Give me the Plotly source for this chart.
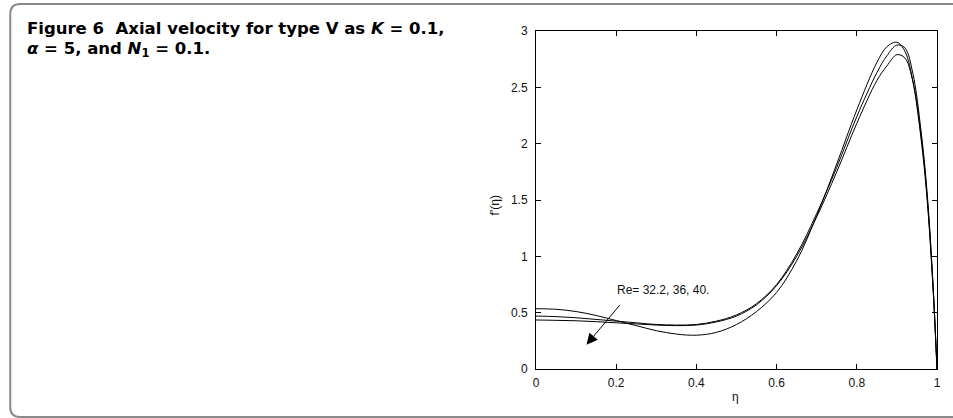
import plotly.graph_objects as go

# Axial velocity profiles f'(eta) for three Reynolds numbers
eta = [0.0, 0.05, 0.1, 0.15, 0.2, 0.25, 0.3, 0.35, 0.4, 0.45, 0.5, 0.55, 0.6,
       0.65, 0.7, 0.75, 0.8, 0.85, 0.875, 0.9, 0.92, 0.94, 0.96, 0.975, 0.99, 1.0]

f_re40 = [0.535, 0.53, 0.51, 0.475, 0.43, 0.385, 0.34, 0.31, 0.30, 0.325, 0.395, 0.51, 0.68,
          0.96, 1.36, 1.82, 2.30, 2.72, 2.86, 2.90, 2.82, 2.55, 2.05, 1.52, 0.72, 0.0]
f_re36 = [0.47, 0.465, 0.455, 0.44, 0.425, 0.41, 0.395, 0.39, 0.395, 0.425, 0.48, 0.58, 0.75,
          1.02, 1.38, 1.79, 2.24, 2.63, 2.78, 2.875, 2.85, 2.62, 2.12, 1.58, 0.76, 0.0]
f_re32 = [0.435, 0.432, 0.428, 0.42, 0.41, 0.40, 0.39, 0.385, 0.39, 0.418, 0.47, 0.57, 0.74,
          1.00, 1.35, 1.75, 2.18, 2.56, 2.69, 2.79, 2.76, 2.55, 2.08, 1.55, 0.74, 0.0]

series_names = ["Re = 40", "Re = 36", "Re = 32.2"]
series_values = [f_re40, f_re36, f_re32]

x_ticks = [0, 0.2, 0.4, 0.6, 0.8, 1]
x_tick_labels = ["0", "0.2", "0.4", "0.6", "0.8", "1"]
y_ticks = [0, 0.5, 1, 1.5, 2, 2.5, 3]
y_tick_labels = ["0", "0.5", "1", "1.5", "2", "2.5", "3"]

# Figure geometry (pixels)
W, H = 953, 418
L, R, T, B = 536, 12, 31, 49
PW, PH = W - L - R, H - T - B


def px_x(px):
    return (px - L) / PW


def px_y(py):
    return (H - B - py) / PH


fig = go.Figure()
for name, vals in zip(series_names, series_values):
    fig.add_trace(go.Scatter(
        x=eta, y=vals, mode="lines", name=name,
        line=dict(color="black", width=1, shape="spline", smoothing=1.0),
        showlegend=False,
    ))

tick_font = dict(family="Liberation Sans, Arial, sans-serif", size=12, color="#111")
axis_common = dict(
    showline=True, linecolor="black", linewidth=1, mirror="ticks",
    ticks="inside", ticklen=5, tickcolor="black", tickwidth=1,
    showgrid=False, zeroline=False, tickfont=tick_font,
)

fig.update_xaxes(range=[0, 1], tickvals=x_ticks, ticktext=x_tick_labels,
                 ticklabelstandoff=3, **axis_common)
fig.update_yaxes(range=[0, 3], tickvals=y_ticks, ticktext=y_tick_labels,
                 ticklabelstandoff=5, **axis_common)

# Arrow marking the direction of increasing Re
arrow_head = (0.126, 0.216)
arrow_tail = (0.212, 0.58)
fig.add_annotation(
    x=arrow_head[0], y=arrow_head[1], ax=arrow_tail[0], ay=arrow_tail[1],
    xref="x", yref="y", axref="x", ayref="y", text="",
    showarrow=True, arrowhead=2, arrowsize=2.2, arrowwidth=1, arrowcolor="black",
)
fig.add_annotation(
    x=0.198, y=0.70, xref="x", yref="y", xanchor="left", yanchor="middle",
    text="Re= 32.2, 36, 40.", showarrow=False, font=tick_font,
)

# Axis titles
fig.add_annotation(x=px_x(737), y=px_y(397), xref="paper", yref="paper",
                   text="\u03b7", showarrow=False, font=tick_font,
                   xanchor="center", yanchor="middle")
fig.add_annotation(x=px_x(495), y=px_y(205), xref="paper", yref="paper",
                   text="f'(\u03b7)", showarrow=False, font=tick_font, textangle=-90,
                   xanchor="center", yanchor="middle")

# Caption
cap_font = dict(family="DejaVu Sans, sans-serif", size=16.5, color="black")
fig.add_annotation(x=px_x(20), y=px_y(29), xref="paper", yref="paper",
                   xanchor="left", yanchor="middle", showarrow=False, font=cap_font,
                   text="<b>Figure 6\u00a0\u00a0Axial velocity for type V as <i>K</i> = 0.1,</b>")
fig.add_annotation(x=px_x(20), y=px_y(50), xref="paper", yref="paper",
                   xanchor="left", yanchor="middle", showarrow=False, font=cap_font,
                   text="<b><i>\u03b1</i> = 5, and <i>N</i><sub>1</sub> = 0.1.</b>")

# Rounded panel frame
def pt(px, py):
    return f"{px_x(px):.5f},{px_y(py):.5f}"


frame = (f"M {pt(970, 4)} L {pt(15, 4)} Q {pt(5, 4)} {pt(5, 14)} "
         f"L {pt(5, 407)} Q {pt(5, 417)} {pt(15, 417)} L {pt(970, 417)}")
fig.add_shape(type="path", path=frame, xref="paper", yref="paper",
              line=dict(color="#8a8a8a", width=2), layer="below")

fig.update_layout(
    width=W, height=H,
    margin=dict(l=L, r=R, t=T, b=B),
    paper_bgcolor="white", plot_bgcolor="white",
)

fig.write_html("out.html")
